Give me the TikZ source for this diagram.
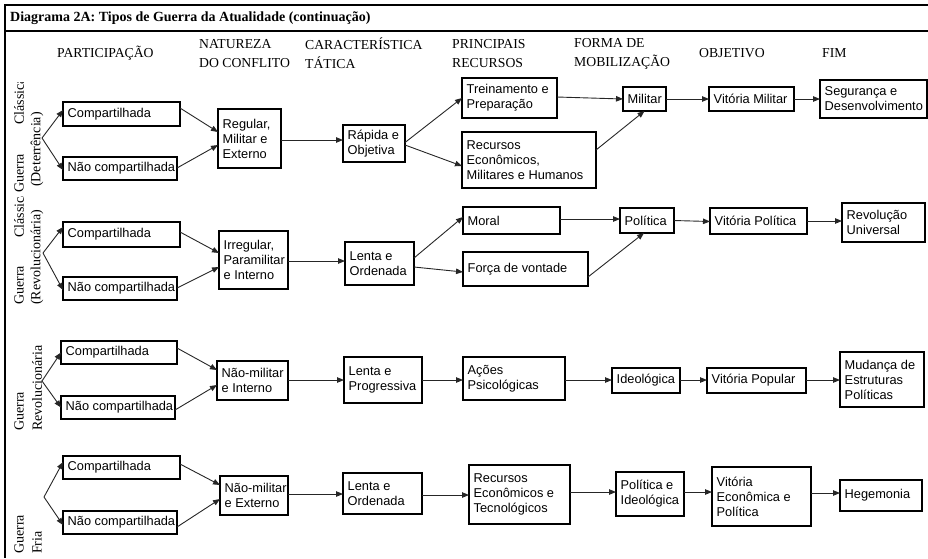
\documentclass[tikz,border=0pt]{standalone}
\usepackage{fontspec}
\setmainfont{Liberation Serif}
\newfontfamily\boxfont{Liberation Sans}
\usetikzlibrary{arrows.meta}
\tikzset{
  boxr/.style={draw=black, line width=1.1pt, inner sep=0pt, outer sep=0pt, rectangle},
  boxt/.style={anchor=west, inner sep=0pt, align=left, font=\boxfont\fontsize{12.8}{15}\selectfont},
  arr/.style={draw=black!85, line width=0.9pt, -{Triangle[length=7pt,width=5.5pt]}},
  hdr/.style={anchor=west, inner sep=0pt, align=left, font=\fontsize{13.7}{19}\selectfont},
  vlab/.style={rotate=90, anchor=west, inner sep=0pt, font=\fontsize{14}{16}\selectfont},
  frame/.style={draw=black, line width=1.1pt}
}
\newcommand\bx[6]{%
  \pgfmathsetmacro\bxcx{(#2+#4)/2}%
  \pgfmathsetmacro\bxcy{(#3+#5)/2}%
  \pgfmathsetmacro\bxw{#4-#2}%
  \pgfmathsetmacro\bxh{#5-#3}%
  \node[boxr, minimum width=\bxw pt, minimum height=\bxh pt] (#1) at (\bxcx,\bxcy) {};
  \node[boxt] (#1t) at ([xshift=4.5pt]#1.west) {#6};
}
\begin{document}
\begin{tikzpicture}[x=1pt,y=-1pt]
\useasboundingbox (0,0) rectangle (928,558);
% frame
\draw[frame] (928,5) -- (5,5) -- (5,558);
\draw[frame] (5,31) -- (928,31);
\node[anchor=west, inner sep=0pt, font=\bfseries\fontsize{14}{16}\selectfont] (title) at (10,18.5) {Diagrama 2A: Tipos de Guerra da Atualidade (continuação)};
% headers
\node[hdr] (h1) at (57,53.5) {PARTICIPAÇÃO};
\node[hdr] (h2) at (199,53.5) {NATUREZA\\DO CONFLITO};
\node[hdr] (h3) at (305,53.5) {CARACTERÍSTICA\\TÁTICA};
\node[hdr] (h4) at (452,53.5) {PRINCIPAIS\\RECURSOS};
\node[hdr] (h5) at (574,53.5) {FORMA DE\\MOBILIZAÇÃO};
\node[hdr] (h6) at (699,53.5) {OBJETIVO};
\node[hdr] (h7) at (822,53.5) {FIM};
% vertical labels
\begin{scope}
\clip (6,82) rectangle (55,200);
\node[vlab] (l1a) at (19,193) {Guerra};
\node[vlab] (l1b) at (19,125) {Clássica};
\node[vlab] (l1c) at (37,187) {(Deterrência)};
\end{scope}
\begin{scope}
\clip (6,196) rectangle (55,315);
\node[vlab] (l2a) at (19,305) {Guerra};
\node[vlab] (l2b) at (19,238) {Clássica};
\node[vlab] (l2c) at (37,305) {(Revolucionária)};
\end{scope}
\node[vlab] (l3a) at (19,431) {Guerra};
\node[vlab] (l3b) at (37,431) {Revolucionária};
\node[vlab] (l4a) at (19,554) {Guerra};
\node[vlab] (l4b) at (37,554) {Fria};
% ---------- section 1
\bx{a1c}{63}{102}{180}{126}{Compartilhada}
\bx{a1n}{63}{157}{177}{180}{Não~compartilhada}
\bx{b1}{218}{109}{281}{168}{Regular,\\Militar e\\Externo}
\bx{c1}{343}{125}{405}{162}{Rápida e\\Objetiva}
\bx{d1a}{462}{78}{557}{118}{Treinamento e\\Preparação}
\bx{d1b}{462}{132}{596}{188}{Recursos\\Econômicos,\\Militares e Humanos}
\bx{e1}{623}{87}{666}{111}{Militar}
\bx{f1}{709}{87}{794}{111}{Vitória Militar}
\bx{g1}{820}{80}{927}{118}{Segurança e\\Desenvolvimento}
\coordinate (v1) at (42,138);
\draw[arr] (v1) -- ([yshift=4pt]a1c.west);
\draw[arr] (v1) -- ([yshift=-1.5pt]a1n.west);
\draw[arr] ([yshift=6pt]a1c.east) -- ([yshift=6.5pt]b1.west);
\draw[arr] ([yshift=0.5pt]a1n.east) -- ([yshift=-6.5pt]b1.west);
\draw[arr] ([yshift=-1.5pt]b1.east) -- ([yshift=3.5pt]c1.west);
\draw[arr] ([yshift=1pt]c1.east) -- (d1a.west);
\draw[arr] ([yshift=-1.5pt]c1.east) -- ([yshift=-6pt]d1b.west);
\draw[arr] ([yshift=1pt]d1a.east) -- (e1.west);
\draw[arr] ([yshift=10pt]d1b.east) -- (e1.south);
\draw[arr] (e1.east) -- (f1.west);
\draw[arr] (f1.east) -- (g1.west);
% ---------- section 2
\bx{a2c}{63}{222}{180}{247}{Compartilhada}
\bx{a2n}{63}{277}{177}{300}{Não~compartilhada}
\bx{b2}{219}{231}{288}{289}{Irregular,\\Paramilitar\\e Interno}
\bx{c2}{345}{242}{414}{285}{Lenta e\\Ordenada}
\bx{d2a}{463}{207}{560}{234}{Moral}
\bx{d2b}{463}{252}{588}{286}{Força de vontade}
\bx{e2}{620}{208}{674}{233}{Política}
\bx{f2}{710}{208}{807}{234}{Vitória Política}
\bx{g2}{842}{203}{925}{242}{Revolução\\Universal}
\coordinate (v2) at (43,253);
\draw[arr] (v2) -- ([yshift=7.5pt]a2c.west);
\draw[arr] (v2) -- ([yshift=-1.5pt]a2n.west);
\draw[arr] ([yshift=2.5pt]a2c.east) -- ([yshift=7pt]b2.west);
\draw[arr] ([yshift=0.5pt]a2n.east) -- ([yshift=-7pt]b2.west);
\draw[arr] ([yshift=-1pt]b2.east) -- ([yshift=2.5pt]c2.west);
\draw[arr] ([yshift=5.5pt]c2.east) -- ([yshift=3.5pt]d2a.west);
\draw[arr] ([yshift=-3.5pt]c2.east) -- ([yshift=-3pt]d2b.west);
\draw[arr] ([yshift=1.5pt]d2a.east) -- ([yshift=1.5pt]e2.west);
\draw[arr] ([yshift=-8pt]d2b.east) -- ([xshift=-3pt]e2.south);
\draw[arr] (e2.east) -- ([yshift=-0.5pt]f2.west);
\draw[arr] (f2.east) -- ([yshift=1.5pt]g2.west);
% ---------- section 3
\bx{a3c}{61}{341}{177}{364}{Compartilhada}
\bx{a3n}{61}{396}{175}{419}{Não~compartilhada}
\bx{b3}{217}{361}{288}{400}{Não-militar\\e Interno}
\bx{c3}{344}{357}{422}{403}{Lenta e\\Progressiva}
\bx{d3}{463}{357}{565}{400}{Ações\\Psicológicas}
\bx{e3}{612}{368}{680}{393}{Ideológica}
\bx{f3}{707}{368}{806}{393}{Vitória Popular}
\bx{g3}{840}{352}{924}{407}{Mudança de\\Estruturas\\Políticas}
\coordinate (v3) at (42,381);
\draw[arr] (v3) -- (a3c.west);
\draw[arr] (v3) -- (a3n.west);
\draw[arr] ([yshift=4.5pt]a3c.east) -- ([yshift=10.5pt]b3.west);
\draw[arr] ([yshift=-2.5pt]a3n.east) -- ([yshift=-4.5pt]b3.west);
\draw[arr] ([yshift=0.5pt]b3.east) -- (c3.west);
\draw[arr] (c3.east) -- ([yshift=-1.5pt]d3.west);
\draw[arr] ([yshift=-1.5pt]d3.east) -- ([yshift=0.5pt]e3.west);
\draw[arr] ([yshift=0.5pt]e3.east) -- ([yshift=0.5pt]f3.west);
\draw[arr] ([yshift=0.5pt]f3.east) -- ([yshift=-0.5pt]g3.west);
% ---------- section 4
\bx{a4c}{63}{456}{180}{479}{Compartilhada}
\bx{a4n}{63}{511}{177}{534}{Não~compartilhada}
\bx{b4}{220}{476}{288}{515}{Não-militar\\e Externo}
\bx{c4}{343}{473}{422}{514}{Lenta e\\Ordenada}
\bx{d4}{469}{465}{570}{524}{Recursos\\Econômicos e\\Tecnológicos}
\bx{e4}{616}{472}{684}{516}{Política e\\Ideológica}
\bx{f4}{712}{467}{811}{526}{Vitória\\Econômica e\\Política}
\bx{g4}{840}{480}{922}{511}{Hegemonia}
\coordinate (v4) at (44,497);
\draw[arr] (v4) -- ([yshift=5.5pt]a4c.west);
\draw[arr] (v4) -- ([yshift=-2.5pt]a4n.west);
\draw[arr] ([yshift=3.5pt]a4c.east) -- ([yshift=10.5pt]b4.west);
\draw[arr] ([yshift=-4.5pt]a4n.east) -- ([yshift=-3.5pt]b4.west);
\draw[arr] ([yshift=1.5pt]b4.east) -- ([yshift=-0.5pt]c4.west);
\draw[arr] ([yshift=-1.5pt]c4.east) -- ([yshift=-0.5pt]d4.west);
\draw[arr] ([yshift=2.5pt]d4.east) -- ([yshift=2pt]e4.west);
\draw[arr] ([yshift=2pt]e4.east) -- ([yshift=4.5pt]f4.west);
\draw[arr] ([yshift=3.5pt]f4.east) -- ([yshift=2.5pt]g4.west);
\end{tikzpicture}
\end{document}
